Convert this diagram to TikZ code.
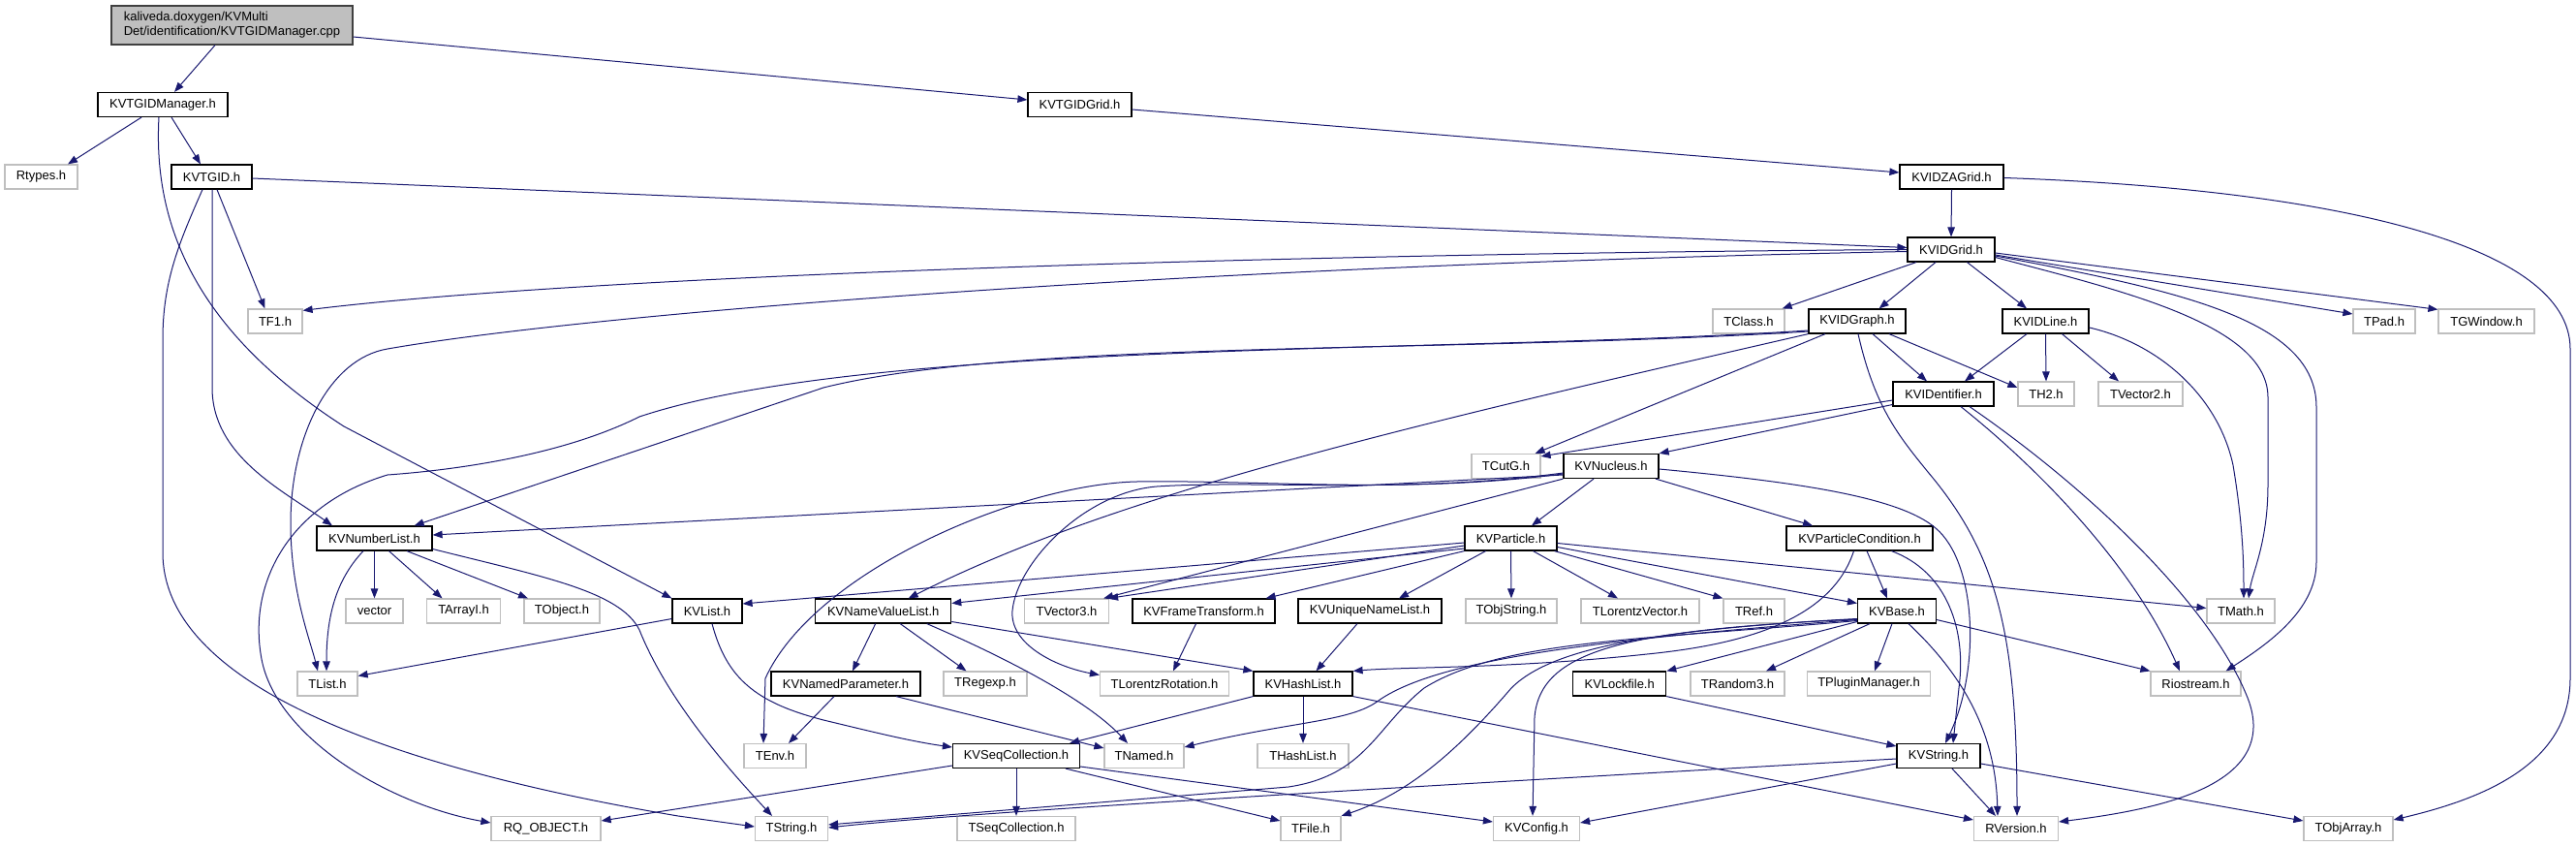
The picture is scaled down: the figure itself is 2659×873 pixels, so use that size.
\documentclass[tikz,border=0pt]{standalone}
\usepackage{fontspec}
\setmainfont{Liberation Sans}
\usetikzlibrary{arrows.meta}
\definecolor{edgecol}{HTML}{191970}
\definecolor{sysgray}{HTML}{BFBFBF}
\definecolor{rootfill}{HTML}{BFBFBF}
\definecolor{rootdraw}{HTML}{404040}
\newcommand\labfont{\fontsize{13}{15}\selectfont}
\begin{document}
\begin{tikzpicture}[x=1pt,y=-1pt,
 kvn/.style={draw=black, line width=1.2pt, fill=white, minimum height=25pt, inner sep=0pt, font=\labfont},
 sysn/.style={draw=sysgray, line width=1.2pt, fill=white, minimum height=25pt, inner sep=0pt, font=\labfont},
 rootn/.style={draw=rootdraw, fill=rootfill, line width=1.2pt, minimum height=40pt, inner sep=0pt, align=left, font=\labfont},
 edge/.style={draw=edgecol, line width=1pt, -{Triangle[length=10pt,width=7.5pt]}},
]
\useasboundingbox (0,0) rectangle (2659,873);
% ---- nodes
\node[rootn, minimum width=249pt] (root) at (239.5,26) {kaliveda.doxygen/KVMulti\\Det/identification/KVTGIDManager.cpp};
\node[kvn, minimum width=134pt] (mgr) at (168,108) {KVTGIDManager.h};
\node[kvn, minimum width=107pt] (tgrid) at (1114.5,108) {KVTGIDGrid.h};
\node[sysn, minimum width=75pt] (rtypes) at (42.5,182.5) {Rtypes.h};
\node[kvn, minimum width=83pt] (tgid) at (218.5,182.5) {KVTGID.h};
\node[kvn, minimum width=107pt] (zagrid) at (2014.5,182.5) {KVIDZAGrid.h};
\node[kvn, minimum width=90pt] (idgrid) at (2014,257.5) {KVIDGrid.h};
\node[sysn, minimum width=56pt] (tf1) at (284,331.5) {TF1.h};
\node[sysn, minimum width=74pt] (tclass) at (1805,331.5) {TClass.h};
\node[kvn, minimum width=100pt] (idgraph) at (1917,331.5) {KVIDGraph.h};
\node[kvn, minimum width=89pt] (idline) at (2111.5,331.5) {KVIDLine.h};
\node[sysn, minimum width=64pt] (tpad) at (2461,331.5) {TPad.h};
\node[sysn, minimum width=99pt] (tgwin) at (2566.5,331.5) {TGWindow.h};
\node[kvn, minimum width=104pt] (ident) at (2006,406.5) {KVIDentifier.h};
\node[sysn, minimum width=58pt] (th2) at (2112,406.5) {TH2.h};
\node[sysn, minimum width=87pt] (tvec2) at (2209.5,406.5) {TVector2.h};
\node[sysn, minimum width=71pt] (tcutg) at (1554.5,481) {TCutG.h};
\node[kvn, minimum width=98pt] (nucleus) at (1663,481) {KVNucleus.h};
\node[kvn, minimum width=119pt] (numlist) at (386.5,555.5) {KVNumberList.h};
\node[kvn, minimum width=95pt] (particle) at (1559.5,555.5) {KVParticle.h};
\node[kvn, minimum width=151pt] (pcond) at (1919.5,555.5) {KVParticleCondition.h};
\node[sysn, minimum width=59pt] (vector) at (386.5,630.5) {vector};
\node[sysn, minimum width=76pt] (tarrayi) at (478.5,630.5) {TArrayI.h};
\node[sysn, minimum width=78pt] (tobject) at (580,630.5) {TObject.h};
\node[kvn, minimum width=72pt] (kvlist) at (730,630.5) {KVList.h};
\node[kvn, minimum width=140pt] (nvlist) at (911.7,630.5) {KVNameValueList.h};
\node[sysn, minimum width=87pt] (tvec3) at (1101,630.5) {TVector3.h};
\node[kvn, minimum width=147pt] (frame) at (1242.5,630.5) {KVFrameTransform.h};
\node[kvn, minimum width=148pt] (uniq) at (1414,630.5) {KVUniqueNameList.h};
\node[sysn, minimum width=94pt] (tobjstr) at (1560,630.5) {TObjString.h};
\node[sysn, minimum width=122pt] (tlvec) at (1693,630.5) {TLorentzVector.h};
\node[sysn, minimum width=63pt] (tref) at (1810.5,630.5) {TRef.h};
\node[kvn, minimum width=81pt] (kvbase) at (1958,630.5) {KVBase.h};
\node[sysn, minimum width=70pt] (tmath) at (2313,630.5) {TMath.h};
\node[sysn, minimum width=62pt] (tlist) at (338,705.5) {TList.h};
\node[kvn, minimum width=154pt] (namedpar) at (873,705.5) {KVNamedParameter.h};
\node[sysn, minimum width=86pt] (tregexp) at (1017,705.5) {TRegexp.h};
\node[sysn, minimum width=133pt] (tlrot) at (1202,705.5) {TLorentzRotation.h};
\node[kvn, minimum width=102pt] (hashlist) at (1345,705.5) {KVHashList.h};
\node[kvn, minimum width=96pt] (lockfile) at (1671.7,705.5) {KVLockfile.h};
\node[sysn, minimum width=97pt] (trandom) at (1793.5,705.5) {TRandom3.h};
\node[sysn, minimum width=127pt] (tplugin) at (1929,705.5) {TPluginManager.h};
\node[sysn, minimum width=93pt] (riostream) at (2266.5,705.5) {Riostream.h};
\node[sysn, minimum width=64pt] (tenv) at (800,780) {TEnv.h};
\node[kvn, minimum width=131pt] (seqcoll) at (1049,780) {KVSeqCollection.h};
\node[sysn, minimum width=82pt] (tnamed) at (1181,780) {TNamed.h};
\node[sysn, minimum width=94pt] (thashlist) at (1345,780) {THashList.h};
\node[kvn, minimum width=86pt] (kvstring) at (2001,780) {KVString.h};
\node[sysn, minimum width=113pt] (rqobj) at (563.5,855) {RQ\_OBJECT.h};
\node[sysn, minimum width=75pt] (tstring) at (817,855) {TString.h};
\node[sysn, minimum width=122pt] (tseqcoll) at (1049,855) {TSeqCollection.h};
\node[sysn, minimum width=62pt] (tfile) at (1353,855) {TFile.h};
\node[sysn, minimum width=89pt] (kvconfig) at (1586,855) {KVConfig.h};
\node[sysn, minimum width=87pt] (rversion) at (2081,855) {RVersion.h};
\node[sysn, minimum width=92pt] (tobjarray) at (2424,855) {TObjArray.h};
% ---- edges
% root
\draw[edge] ([xshift=-17.5pt]root.south) -- ([xshift=12pt]mgr.north);
\draw[edge] ([yshift=-12pt]root.east) -- ([yshift=5pt]tgrid.west);
% KVTGIDManager
\draw[edge] ([xshift=-22pt]mgr.south) -- ([xshift=27.5pt]rtypes.north);
\draw[edge] ([xshift=9pt]mgr.south) -- ([xshift=-11.5pt]tgid.north);
\draw[edge] ([xshift=-4pt]mgr.south) .. controls (158,230) and (200,340) .. (355,440) -- (kvlist.north west);
% KVTGID
\draw[edge] ([yshift=-1.5pt]tgid.east) -- ([yshift=2pt]idgrid.west);
\draw[edge] ([xshift=5.5pt]tgid.south) -- ([xshift=-10.5pt]tf1.north);
\draw[edge] ([xshift=0.5pt]tgid.south) -- (219,400) .. controls (219,470) and (290,505) .. ([xshift=-43.5pt]numlist.north);
\draw[edge] ([xshift=-9.5pt]tgid.south) .. controls (185,250) and (168,290) .. (168,350) -- (168,570) .. controls (168,720) and (450,800) .. (700,842) -- ([yshift=2pt]tstring.west);
% KVTGIDGrid / KVIDZAGrid
\draw[edge] ([yshift=-5pt]tgrid.east) -- ([yshift=4.5pt]zagrid.west);
\draw[edge] (zagrid.south) -- (idgrid.north);
\draw[edge] ([yshift=-1pt]zagrid.east) .. controls (2400,195) and (2653,250) .. (2653,360) -- (2653,700) .. controls (2653,790) and (2560,825) .. ([yshift=9pt]tobjarray.east);
% KVIDGrid
\draw[edge] ([xshift=-36pt]idgrid.south) -- ([xshift=-3pt]tclass.north east);
\draw[edge] ([xshift=-16pt]idgrid.south) -- ([xshift=22.6pt]idgraph.north);
\draw[edge] ([xshift=16.5pt]idgrid.south) -- ([xshift=-19.5pt]idline.north);
\draw[edge] ([yshift=-5.5pt]idgrid.east) -- ([yshift=7.5pt]tpad.west);
\draw[edge] ([yshift=-3.5pt]idgrid.east) -- ([yshift=-1pt]tgwin.north west);
\draw[edge] ([yshift=-8pt]idgrid.east) .. controls (2190,300) and (2341,335) .. (2341,410) -- (2341,500) .. controls (2341,560) and (2325,590) .. ([xshift=8pt]tmath.north);
\draw[edge] ([yshift=-6.5pt]idgrid.east) .. controls (2250,300) and (2391,330) .. (2391,420) -- (2391,580) .. controls (2391,630) and (2340,665) .. ([xshift=-16pt]riostream.north east);
\draw[edge] (idgrid.west) .. controls (1300,262) and (600,285) .. ([yshift=-2pt]tf1.north east);
\draw[edge] ([yshift=-2pt]idgrid.west) .. controls (1200,275) and (600,325) .. (400,360) .. controls (340,370) and (300,450) .. (300,540) .. controls (300,610) and (320,660) .. ([xshift=-10pt]tlist.north);
% KVIDGraph
\draw[edge] ([xshift=16pt]idgraph.south) -- ([xshift=-17pt]ident.north);
\draw[edge] ([xshift=33pt]idgraph.south) -- ([yshift=6.5pt]th2.west);
\draw[edge] ([xshift=-33pt]idgraph.south) -- ([xshift=-6pt]tcutg.north east);
\draw[edge] ([xshift=1pt]idgraph.south) .. controls (1935,420) and (1960,450) .. (1990,487) .. controls (2060,570) and (2082,650) .. ([xshift=1pt]rversion.north);
\draw[edge] ([yshift=-10.5pt]idgraph.west) .. controls (1500,365) and (1050,350) .. (850,400) -- ([xshift=-19pt]numlist.north east);
\draw[edge] ([yshift=-9.5pt]idgraph.west) .. controls (1500,365) and (900,350) .. (660,430) .. controls (580,470) and (470,485) .. (400,490) .. controls (300,520) and (255,600) .. (270,680) .. controls (285,760) and (400,830) .. ([yshift=6pt]rqobj.west);
\draw[edge] (idgraph.south west) .. controls (1450,440) and (1150,510) .. ([xshift=26pt]nvlist.north);
% KVIDentifier
\draw[edge] ([yshift=-6.5pt]ident.west) -- ([yshift=-3pt]tcutg.north east);
\draw[edge] ([yshift=-11pt]ident.west) -- (nucleus.north east);
\draw[edge] ([xshift=18pt]ident.south) .. controls (2100,480) and (2200,580) .. ([xshift=-16.5pt]riostream.north);
\draw[edge] ([xshift=27pt]ident.south) .. controls (2150,500) and (2280,620) .. (2320,720) .. controls (2355,810) and (2230,835) .. ([yshift=7pt]rversion.east);
% KVIDLine
\draw[edge] ([xshift=-19.5pt]idline.south) -- ([xshift=22pt]ident.north);
\draw[edge] (idline.south) -- (th2.north);
\draw[edge] ([xshift=17pt]idline.south) -- ([xshift=-22.5pt]tvec2.north);
\draw[edge] ([yshift=-6.5pt]idline.east) .. controls (2230,355) and (2290,410) .. (2305,480) .. controls (2315,540) and (2316,580) .. ([xshift=3pt]tmath.north);
% KVNucleus
\draw[edge] ([yshift=-9pt]nucleus.west) -- ([yshift=3.5pt]numlist.east);
\draw[edge] ([yshift=-8pt]nucleus.west) .. controls (1450,510) and (1300,495) .. (1173,497) .. controls (1050,500) and (840,590) .. (790,700) -- ([xshift=-12pt]tenv.north);
\draw[edge] ([yshift=-7pt]nucleus.west) .. controls (1450,510) and (1300,495) .. (1194,502) .. controls (1120,508) and (1050,580) .. (1045,630) .. controls (1042,665) and (1090,688) .. ([yshift=9pt]tlrot.west);
\draw[edge] (nucleus.south west) -- ([xshift=-6pt]tvec3.north east);
\draw[edge] ([xshift=-18pt]nucleus.south) -- ([xshift=21.5pt]particle.north);
\draw[edge] ([xshift=46pt]nucleus.south) -- ([xshift=-48.5pt]pcond.north);
\draw[edge] ([yshift=-3pt]nucleus.east) .. controls (1850,497) and (1960,512) .. (1998,545) .. controls (2040,580) and (2045,690) .. ([xshift=7pt]kvstring.north);
% KVParticle
\draw[edge] ([yshift=-4.5pt]particle.west) -- ([yshift=7.5pt]kvlist.east);
\draw[edge] ([yshift=-7.5pt]particle.west) -- ([xshift=-1pt]tvec3.north east);
\draw[edge] ([yshift=-10.5pt]particle.west) -- ([yshift=8pt]nvlist.east);
\draw[edge] (particle.south west) -- ([xshift=-10pt]frame.north east);
\draw[edge] ([xshift=-26pt]particle.south) -- ([xshift=30pt]uniq.north);
\draw[edge] (particle.south) -- (tobjstr.north);
\draw[edge] ([xshift=23pt]particle.south) -- ([xshift=-23pt]tlvec.north);
\draw[edge] ([xshift=-3pt]particle.south east) -- (tref.north west);
\draw[edge] ([yshift=-9pt]particle.east) -- ([yshift=8pt]kvbase.west);
\draw[edge] ([yshift=-5pt]particle.east) -- ([yshift=3pt]tmath.west);
% KVParticleCondition
\draw[edge] ([xshift=7.5pt]pcond.south) -- ([xshift=-10pt]kvbase.north);
\draw[edge] ([xshift=33pt]pcond.south) .. controls (2010,590) and (2030,650) .. (2022,710) -- ([xshift=15pt]kvstring.north);
\draw[edge] ([xshift=-6pt]pcond.south) .. controls (1890,640) and (1800,665) .. (1700,675) .. controls (1560,690) and (1450,688) .. (hashlist.north east);
% KVBase
\draw[edge] ([yshift=-11pt]kvbase.west) -- (lockfile.north east);
\draw[edge] ([xshift=-28pt]kvbase.south) -- ([xshift=29.5pt]trandom.north);
\draw[edge] ([xshift=-5pt]kvbase.south) -- ([xshift=6pt]tplugin.north);
\draw[edge] ([xshift=12pt]kvbase.south) .. controls (2030,700) and (2060,760) .. ([xshift=-19pt]rversion.north);
\draw[edge] ([yshift=-9pt]kvbase.east) -- (riostream.north west);
\draw[edge] ([yshift=-9pt]kvbase.west) .. controls (1650,660) and (1480,680) .. (1420,725) .. controls (1390,745) and (1330,745) .. ([yshift=9pt]tnamed.east);
\draw[edge] ([yshift=-8pt]kvbase.west) .. controls (1700,650) and (1600,670) .. (1560,710) .. controls (1500,780) and (1450,820) .. (tfile.north east);
\draw[edge] ([yshift=-8.5pt]kvbase.west) .. controls (1680,650) and (1590,670) .. (1584,740) -- ([xshift=-4pt]kvconfig.north);
\draw[edge] ([yshift=-10pt]kvbase.west) .. controls (1700,660) and (1550,660) .. (1470,710) .. controls (1420,750) and (1410,800) .. (1330,812) -- ([yshift=4pt]tstring.east);
% KVString
\draw[edge] ([xshift=14pt]kvstring.south) -- ([xshift=-21pt]rversion.north);
\draw[edge] ([yshift=-8pt]kvstring.east) -- ([yshift=8pt]tobjarray.west);
\draw[edge] ([yshift=-3pt]kvstring.west) .. controls (1400,815) and (1000,838) .. ([yshift=1pt]tstring.east);
\draw[edge] ([yshift=-8pt]kvstring.west) -- ([yshift=6pt]kvconfig.east);
% KVLockfile
\draw[edge] (lockfile.south east) -- ([yshift=10pt]kvstring.west);
% KVHashList
\draw[edge] (hashlist.south) -- (thashlist.north);
\draw[edge] (hashlist.south west) -- ([xshift=-11pt]seqcoll.north east);
\draw[edge] (hashlist.south east) -- ([yshift=9pt]rversion.west);
% KVSeqCollection
\draw[edge] ([yshift=-10pt]seqcoll.west) -- ([yshift=8pt]rqobj.east);
\draw[edge] (seqcoll.south) -- (tseqcoll.north);
\draw[edge] ([xshift=51pt]seqcoll.south) -- ([yshift=8pt]tfile.west);
\draw[edge] ([yshift=-11pt]seqcoll.east) -- ([yshift=7pt]kvconfig.west);
% KVList
\draw[edge] ([yshift=-8pt]kvlist.west) -- ([yshift=8pt]tlist.east);
\draw[edge] ([xshift=5pt]kvlist.south) .. controls (750,700) and (780,725) .. (850,743) .. controls (900,755) and (940,765) .. ([yshift=9pt]seqcoll.west);
% KVNameValueList
\draw[edge] ([xshift=-8pt]nvlist.south) -- ([xshift=7pt]namedpar.north);
\draw[edge] ([xshift=17.5pt]nvlist.south) -- ([xshift=-19.5pt]tregexp.north);
\draw[edge] ([xshift=45pt]nvlist.south) .. controls (1030,675) and (1120,720) .. ([xshift=-17pt]tnamed.north);
\draw[edge] ([yshift=-11pt]nvlist.east) -- (hashlist.north west);
% KVNamedParameter
\draw[edge] ([xshift=-12pt]namedpar.south) -- ([xshift=14pt]tenv.north);
\draw[edge] ([xshift=52pt]namedpar.south) -- ([yshift=8pt]tnamed.west);
% KVFrameTransform, KVUniqueNameList
\draw[edge] ([xshift=-8pt]frame.south) -- ([xshift=9pt]tlrot.north);
\draw[edge] ([xshift=-13pt]uniq.south) -- ([xshift=13.5pt]hashlist.north);
% KVNumberList
\draw[edge] (numlist.south) -- (vector.north);
\draw[edge] ([xshift=15pt]numlist.south) -- ([xshift=-22pt]tarrayi.north);
\draw[edge] ([xshift=33.5pt]numlist.south) -- ([xshift=-35pt]tobject.north);
\draw[edge] ([xshift=-11.5pt]numlist.south) .. controls (345,600) and (337,640) .. ([xshift=-1pt]tlist.north);
\draw[edge] ([yshift=-11pt]numlist.east) .. controls (560,595) and (640,610) .. (660,650) .. controls (680,700) and (720,760) .. ([xshift=-20pt]tstring.north);
\end{tikzpicture}
\end{document}
